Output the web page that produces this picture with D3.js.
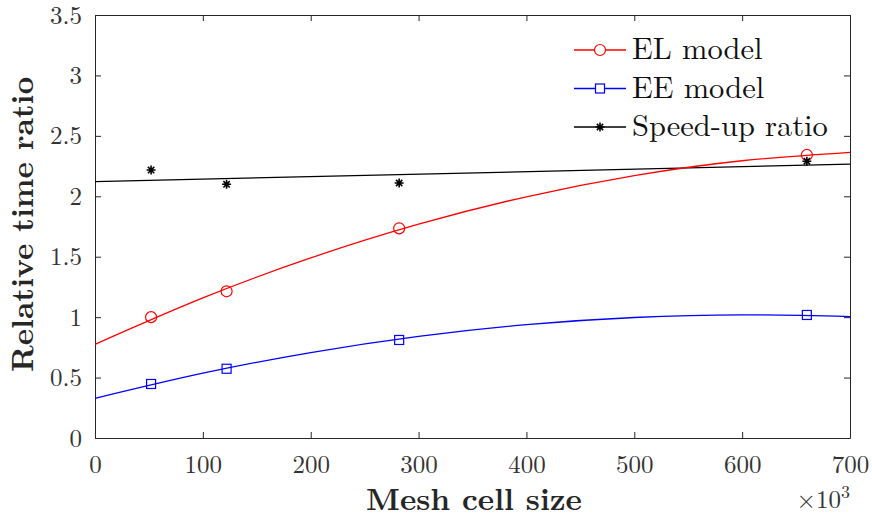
<!DOCTYPE html>
<html>
<head>
<meta charset="utf-8">
<script src="https://cdn.jsdelivr.net/npm/d3@7"></script>
<style>
  body { margin: 0; background: #fff; }
</style>
</head>
<body>
<div id="chart"></div>
<script>
// measured points (mesh size in 10^3 cells)
var mesh_size = [52, 122, 282, 660];
var el_values = [1.0, 1.214, 1.735, 2.342];
var ee_values = [0.447, 0.573, 0.811, 1.018];
var speedup_values = [2.217, 2.099, 2.11, 2.29];

// fitted trend lines
var fit_x = [0, 100, 200, 300, 400, 500, 600, 700];
var el_fit = [0.775, 1.159, 1.490, 1.769, 1.996, 2.171, 2.294, 2.364];
var ee_fit = [0.328, 0.536, 0.707, 0.841, 0.938, 0.997, 1.019, 1.005];
var speedup_fit_x = [0, 700];
var speedup_fit = [2.121, 2.266];

var x_ticks = [0, 100, 200, 300, 400, 500, 600, 700];
var y_ticks = [0, 0.5, 1, 1.5, 2, 2.5, 3, 3.5];
var legend_labels = ['EL model', 'EE model', 'Speed-up ratio'];

var chart_width = 872;
var chart_height = 517;
var margin = { left: 95, top: 15, right: 22, bottom: 79 };
var plot_w = chart_width - margin.left - margin.right;
var plot_h = chart_height - margin.top - margin.bottom;
var axis_color = '#262626';
var serif = 'Latin Modern Roman';

var svg = d3.select('#chart')
    .append('svg')
    .attr('width', chart_width)
    .attr('height', chart_height);

var x_scale = d3.scaleLinear().domain([0, 700]).range([0, plot_w]);
var y_scale = d3.scaleLinear().domain([0, 3.5]).range([plot_h, 0]);

var g = svg.append('g')
    .attr('transform', 'translate(' + margin.left + ',' + margin.top + ')');

// axes, ticks inward on all sides
function style_axis(sel) {
    sel.attr('font-family', serif).attr('font-size', 25);
    sel.selectAll('path, line').attr('stroke', axis_color).attr('stroke-width', 1);
    sel.selectAll('text').attr('fill', '#333');
}

g.append('g')
    .attr('transform', 'translate(0,' + plot_h + ')')
    .call(d3.axisBottom(x_scale).tickValues(x_ticks).tickSizeInner(-6).tickSizeOuter(0).tickPadding(17).tickFormat(d3.format('d')))
    .call(style_axis);

g.append('g')
    .call(d3.axisTop(x_scale).tickValues(x_ticks).tickSizeInner(-6).tickSizeOuter(0).tickFormat(''))
    .call(style_axis);

g.append('g')
    .call(d3.axisLeft(y_scale).tickValues(y_ticks).tickSizeInner(-6).tickSizeOuter(0).tickPadding(13).tickFormat(function (d) { return d; }))
    .call(style_axis);

g.append('g')
    .attr('transform', 'translate(' + plot_w + ',0)')
    .call(d3.axisRight(y_scale).tickValues(y_ticks).tickSizeInner(-6).tickSizeOuter(0).tickFormat(''))
    .call(style_axis);

// fit lines
var line = d3.line()
    .x(function (d) { return x_scale(d[0]); })
    .y(function (d) { return y_scale(d[1]); })
    .curve(d3.curveNatural);

var plot = g.append('g');

plot.append('path')
    .datum(d3.zip(speedup_fit_x, speedup_fit))
    .attr('d', line)
    .attr('fill', 'none')
    .attr('stroke', '#000')
    .attr('stroke-width', 1.3);

plot.append('path')
    .datum(d3.zip(fit_x, el_fit))
    .attr('d', line)
    .attr('fill', 'none')
    .attr('stroke', '#ff0000')
    .attr('stroke-width', 1.3);

plot.append('path')
    .datum(d3.zip(fit_x, ee_fit))
    .attr('d', line)
    .attr('fill', 'none')
    .attr('stroke', '#0000ff')
    .attr('stroke-width', 1.3);

// markers
function star_path(cx, cy, r) {
    var d = r * 0.7071;
    return 'M' + (cx - r) + ',' + cy + 'H' + (cx + r) +
        'M' + cx + ',' + (cy - r) + 'V' + (cy + r) +
        'M' + (cx - d) + ',' + (cy - d) + 'L' + (cx + d) + ',' + (cy + d) +
        'M' + (cx - d) + ',' + (cy + d) + 'L' + (cx + d) + ',' + (cy - d);
}

plot.selectAll('.el')
    .data(d3.zip(mesh_size, el_values))
    .enter()
    .append('circle')
    .attr('cx', function (d) { return x_scale(d[0]); })
    .attr('cy', function (d) { return y_scale(d[1]); })
    .attr('r', 5.5)
    .attr('fill', 'none')
    .attr('stroke', '#ff0000')
    .attr('stroke-width', 1.2);

plot.selectAll('.ee')
    .data(d3.zip(mesh_size, ee_values))
    .enter()
    .append('rect')
    .attr('x', function (d) { return x_scale(d[0]) - 4.5; })
    .attr('y', function (d) { return y_scale(d[1]) - 4.5; })
    .attr('width', 9)
    .attr('height', 9)
    .attr('fill', 'none')
    .attr('stroke', '#0000ff')
    .attr('stroke-width', 1.2);

plot.selectAll('.sp')
    .data(d3.zip(mesh_size, speedup_values))
    .enter()
    .append('path')
    .attr('d', function (d) { return star_path(x_scale(d[0]), y_scale(d[1]), 4.5); })
    .attr('stroke', '#000')
    .attr('stroke-width', 1.6);

// axis labels
svg.append('text')
    .attr('x', 474)
    .attr('y', 510)
    .attr('text-anchor', 'middle')
    .attr('font-family', serif)
    .attr('font-size', 31)
    .attr('font-weight', 'bold')
    .attr('fill', axis_color)
    .text('Mesh cell size');

svg.append('text')
    .attr('transform', 'translate(33,372) rotate(-90)')
    .attr('text-anchor', 'start')
    .attr('font-family', serif)
    .attr('font-size', 31)
    .attr('font-weight', 'bold')
    .attr('fill', axis_color)
    .text('Relative time ratio');

var mult = svg.append('text')
    .attr('x', margin.left + plot_w)
    .attr('y', 508)
    .attr('text-anchor', 'end')
    .attr('font-family', serif)
    .attr('font-size', 25)
    .attr('fill', '#333');
mult.append('tspan').text('\u00d710');
mult.append('tspan').attr('dy', -10).attr('font-size', 18).text('3');

// legend
var legend = svg.append('g').attr('transform', 'translate(574,50)');
var row_gap = 38.5;

legend_labels.forEach(function (label, i) {
    var row = legend.append('g').attr('transform', 'translate(0,' + i * row_gap + ')');
    var colors = ['#ff0000', '#0000ff', '#000'];
    row.append('line')
        .attr('x1', 0).attr('x2', 52)
        .attr('y1', 0).attr('y2', 0)
        .attr('stroke', colors[i])
        .attr('stroke-width', 1.3);
    if (i === 0) {
        row.append('circle').attr('cx', 26).attr('cy', 0).attr('r', 5.5)
            .attr('fill', '#fff').attr('stroke', colors[i]).attr('stroke-width', 1.2);
    } else if (i === 1) {
        row.append('rect').attr('x', 21.5).attr('y', -4.5).attr('width', 9).attr('height', 9)
            .attr('fill', '#fff').attr('stroke', colors[i]).attr('stroke-width', 1.2);
    } else {
        row.append('path').attr('d', star_path(26, 0, 4.5))
            .attr('stroke', colors[i]).attr('stroke-width', 1.6);
    }
    row.append('text')
        .attr('x', 58)
        .attr('y', 9)
        .attr('font-family', serif)
        .attr('font-size', 30.5)
        .attr('fill', '#111')
        .text(label);
});
</script>
</body>
</html>
